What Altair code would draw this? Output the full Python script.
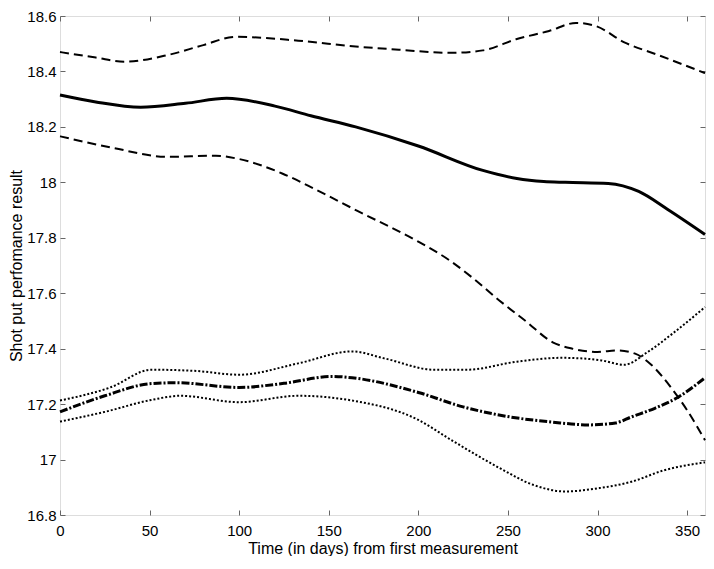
import altair as alt
import pandas as pd

FONT = "Liberation Sans"
GRAY = "#666666"

# ---- data ----
upper_mean_day = [0, 20, 45, 70, 93, 120, 140, 165, 200, 236, 255, 270, 282, 306, 323, 339, 360]
upper_mean_val = [18.315, 18.29, 18.271, 18.285, 18.303, 18.275, 18.24, 18.20, 18.131, 18.043,
                  18.014, 18.003, 18.0, 17.996, 17.967, 17.903, 17.812]

upper_hi_day = [0, 20, 36, 60, 80, 98, 133, 165, 190, 218, 236, 255, 273, 288, 299, 315, 334, 360]
upper_hi_val = [18.47, 18.45, 18.435, 18.459, 18.495, 18.525, 18.511, 18.49, 18.478, 18.467,
                18.476, 18.517, 18.546, 18.575, 18.564, 18.505, 18.459, 18.394]

upper_lo_day = [0, 29, 60, 87, 100, 124, 143, 166, 200, 218, 230, 245, 260, 275, 286, 300,
                311, 321, 330, 341, 350, 360]
upper_lo_val = [18.166, 18.125, 18.092, 18.096, 18.084, 18.032, 17.973, 17.897, 17.786, 17.716,
                17.657, 17.575, 17.499, 17.423, 17.40, 17.388, 17.394, 17.382, 17.342, 17.26,
                17.178, 17.07]

lower_mean_day = [0, 25, 51, 65, 100, 125, 152, 163, 200, 225, 251, 275, 295, 310, 319, 332, 345, 360]
lower_mean_val = [17.172, 17.23, 17.274, 17.277, 17.26, 17.275, 17.30, 17.295, 17.242, 17.19,
                  17.154, 17.135, 17.125, 17.132, 17.154, 17.185, 17.225, 17.295]

lower_hi_day = [0, 28, 51, 75, 100, 133, 163, 181, 209, 227, 255, 280, 301, 315, 328, 343, 360]
lower_hi_val = [17.213, 17.26, 17.324, 17.32, 17.306, 17.347, 17.39, 17.365, 17.324, 17.324,
                17.353, 17.367, 17.359, 17.342, 17.388, 17.46, 17.55]

lower_lo_day = [0, 25, 51, 67, 100, 133, 163, 200, 218, 246, 264, 282, 301, 319, 337, 360]
lower_lo_val = [17.137, 17.172, 17.215, 17.23, 17.207, 17.23, 17.213, 17.143, 17.072, 16.967,
                16.909, 16.885, 16.897, 16.92, 16.961, 16.99]

X_TICKS = [0, 50, 100, 150, 200, 250, 300, 350]
Y_TICKS = [16.8, 17, 17.2, 17.4, 17.6, 17.8, 18, 18.2, 18.4, 18.6]

series = [
    ("upper_mean", upper_mean_day, upper_mean_val),
    ("upper_hi", upper_hi_day, upper_hi_val),
    ("upper_lo", upper_lo_day, upper_lo_val),
    ("lower_mean", lower_mean_day, lower_mean_val),
    ("lower_hi", lower_hi_day, lower_hi_val),
    ("lower_lo", lower_lo_day, lower_lo_val),
]
rows = []
for name, ds, vs in series:
    for d, v in zip(ds, vs):
        rows.append({"series": name, "day": d, "value": v})
df = pd.DataFrame(rows)

styles = {
    "upper_mean": (None, 3),
    "upper_hi": ([9, 5], 2),
    "upper_lo": ([9, 5], 2),
    "lower_mean": ([8, 2, 2, 2], 3),
    "lower_hi": ([2, 2], 2),
    "lower_lo": ([2, 2], 2),
}

xscale = alt.Scale(domain=[0, 360], nice=False, zero=False)
yscale = alt.Scale(domain=[16.8, 18.6], nice=False, zero=False)

common_axis = dict(grid=False, domain=False, offset=-5, tickSize=5, tickColor=GRAY, tickWidth=1,
                   labelFontSize=15, labelColor="black", labelFont=FONT, titleFont=FONT,
                   titleFontSize=16, titleFontWeight="normal", titleColor="black",
                   labelOverlap=False, labelFlush=False)

xaxis = alt.Axis(values=X_TICKS, title="Time (in days) from first measurement",
                 labelPadding=8, titlePadding=2, **common_axis)
yaxis = alt.Axis(values=Y_TICKS, format="~g", title="Shot put perfomance result",
                 labelPadding=4, titlePadding=2, **common_axis)

lines = []
for name, _, _ in series:
    dash, w = styles[name]
    kw = dict(color="black", strokeWidth=w, interpolate="monotone")
    if dash is not None:
        kw["strokeDash"] = dash
    lines.append(
        alt.Chart(df)
        .transform_filter(alt.datum.series == name)
        .mark_line(**kw)
        .encode(x=alt.X("day:Q", scale=xscale, axis=xaxis),
                y=alt.Y("value:Q", scale=yscale, axis=yaxis))
    )

frame_axis = dict(grid=False, domain=False, offset=-5, tickSize=5, tickColor=GRAY, tickWidth=1,
                  labels=False, title=None)
frame = alt.Chart(df).mark_point(opacity=0).encode(
    x=alt.X("day:Q", scale=xscale, axis=alt.Axis(orient="top", values=X_TICKS, **frame_axis)),
    y=alt.Y("value:Q", scale=yscale, axis=alt.Axis(orient="right", values=Y_TICKS, **frame_axis)),
)

chart = (
    alt.layer(alt.layer(*lines), frame)
    .resolve_scale(x="independent", y="independent")
    .properties(width=645, height=499,
                autosize=alt.AutoSizeParams(type="none"),
                padding={"left": 52, "top": 8, "right": 1, "bottom": 41})
    .configure_view(stroke=GRAY, strokeWidth=1)
    .configure(font=FONT)
)

chart.save("out.html", embed_options={"renderer": "svg", "actions": False})
